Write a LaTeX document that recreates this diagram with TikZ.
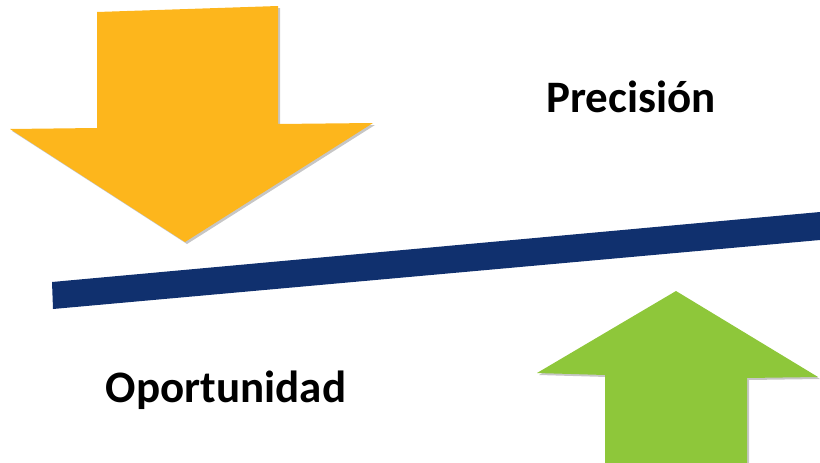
\documentclass[tikz,border=0pt]{standalone}
\usepackage{fontspec}
\setmainfont{Carlito}
\usetikzlibrary{shadows}
\definecolor{mOrange}{HTML}{FDB61C}
\definecolor{mGreen}{HTML}{8EC73A}
\definecolor{mNavy}{HTML}{10306E}

\begin{document}
\begin{tikzpicture}[x=1pt, y=-1pt,
    arrowshape/.style={drop shadow={shadow xshift=2pt, shadow yshift=-2pt, opacity=0.45}},
    caption/.style={font=\bfseries\fontsize{45}{54}\selectfont, anchor=base}]
        \useasboundingbox (0,0) rectangle (820,463);
        % arrow pointing down
        \fill[mOrange, arrowshape] (97,12) -- (278,6) -- (278,124) -- (373,123) -- (185,242) -- (10,129) -- (97,128) -- cycle;
        % arrow pointing up
        \fill[mGreen, arrowshape] (676,291) -- (818,377) -- (747,378) -- (747,463) -- (605,463) -- (605,375) -- (537,373) -- cycle;
        % the balance bar
        \fill[mNavy] (52,282) -- (820,212) -- (820,240) -- (53,309) -- cycle;
        \node[caption] (precision) at (631,112) {Precisión};
        \node[caption] (oportunidad) at (226,402) {Oportunidad};
      \end{tikzpicture}
\end{document}
